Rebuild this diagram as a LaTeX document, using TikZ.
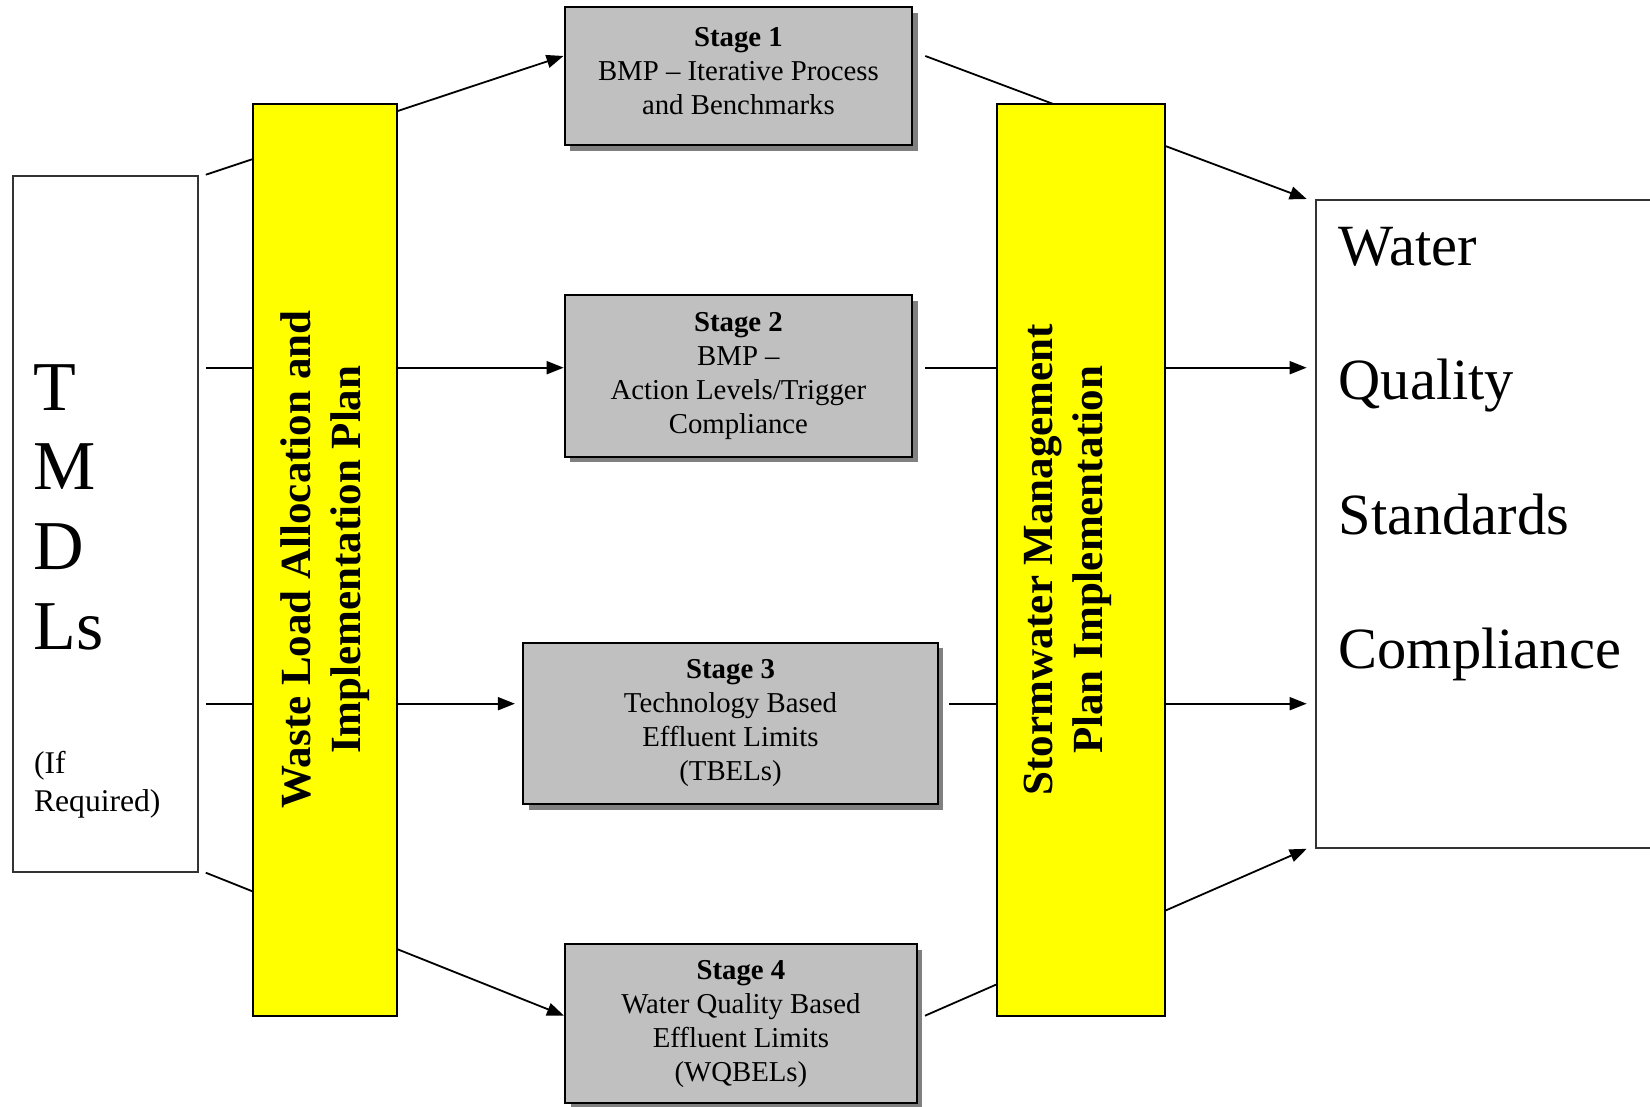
\documentclass[tikz,border=0pt]{standalone}
\usepackage{fontspec}
\setmainfont{Liberation Serif}
\usetikzlibrary{arrows.meta,shadows}

\definecolor{boxgray}{HTML}{C0C0C0}
\definecolor{shadowgray}{HTML}{808080}
\definecolor{framegray}{HTML}{333333}
\definecolor{baryellow}{HTML}{FFFF00}

\newcommand\stagefont{\fontsize{14.4}{17}\selectfont}
\newcommand\barfont{\fontsize{21.5}{25}\selectfont\bfseries}
\newcommand\bigfont{\fontsize{35}{40}\selectfont}
\newcommand\notefont{\fontsize{15.8}{19}\selectfont}
\newcommand\goalfont{\fontsize{29.2}{36}\selectfont}

\tikzset{
  stagebox/.style={draw, line width=1pt, fill=boxgray, align=center, inner sep=0pt,
    font=\stagefont,
    drop shadow={shadow xshift=2.8pt, shadow yshift=-2.8pt, fill=shadowgray, opacity=1}},
  planbar/.style={draw, line width=0.9pt, fill=baryellow, inner sep=0pt},
  framebox/.style={draw=framegray, line width=1pt, inner sep=0pt},
  flow/.style={line width=0.9pt, -{Triangle[length=8.5pt,width=6.5pt]}},
  word/.style={anchor=base west, inner sep=0pt}
}

\begin{document}
\begin{tikzpicture}[x=0.5pt,y=-0.5pt]
\useasboundingbox (0,0) rectangle (1650,1107);
\clip (0,0) rectangle (1650,1107);
\node[framebox, minimum width=92.6pt, minimum height=348pt] (tmdl) at (105.2,523.7) {};
\node[framebox, minimum width=172.2pt, minimum height=323.9pt] (wqs) at (1487.9,523.9) {};
\node[stagebox, minimum width=173.9pt, minimum height=68.9pt] (s1) at (738.4,76.2)
  {\textbf{Stage 1}\\BMP -- Iterative Process\\and Benchmarks\strut};
\node[stagebox, minimum width=173.7pt, minimum height=80.7pt] (s2) at (738.4,376)
  {\textbf{Stage 2}\\BMP --\\Action Levels/Trigger\\Compliance};
\node[stagebox, minimum width=207.2pt, minimum height=80.8pt] (s3) at (730.5,723.5)
  {\textbf{Stage 3}\\Technology Based\\Effluent Limits\\(TBELs)};
\node[stagebox, minimum width=175.9pt, minimum height=79.7pt] (s4) at (740.9,1023.7)
  {\textbf{Stage 4}\\Water Quality Based\\Effluent Limits\\(WQBELs)};
% levels of the connectors
\coordinate (lv1) at (0,56);
\coordinate (lv2) at (0,367.7);
\coordinate (lv3) at (0,703.7);
\coordinate (lv4) at (0,1015.7);
\draw[flow] ([xshift=3.5pt]tmdl.north east) -- (s1.west |- lv1);
\draw[flow] ([xshift=3.5pt]tmdl.east |- lv2) -- (s2.west |- lv2);
\draw[flow] ([xshift=3.5pt]tmdl.east |- lv3) -- ([xshift=-3.7pt]s3.west |- lv3);
\draw[flow] ([xshift=3.5pt]tmdl.south east) -- (s4.west |- lv4);
\draw[flow] ([xshift=6pt]s1.east |- lv1) -- ([xshift=-4pt]wqs.north west);
\draw[flow] ([xshift=6pt]s2.east |- lv2) -- ([xshift=-4pt]wqs.west |- lv2);
\draw[flow] ([xshift=5.3pt]s3.east |- lv3) -- ([xshift=-4pt]wqs.west |- lv3);
\draw[flow] ([xshift=3.6pt]s4.east |- lv4) -- ([xshift=-4pt]wqs.south west);
% yellow bars over the connectors
\node[planbar, minimum width=72.2pt, minimum height=456pt] (wla) at (324.8,559.7) {};
\node[planbar, minimum width=84pt, minimum height=456pt] (swmp) at (1081,559.7) {};
\node[rotate=90, align=center, font=\barfont] (wlatext) at (wla.center)
  {Waste Load Allocation and\\Implementation Plan};
\node[rotate=90, align=center, font=\barfont] (swmptext) at ([xshift=-6.8pt]swmp.center)
  {Stormwater Management\\Plan Implementation};
\node[word, font=\bigfont] (tT) at (33.3,410) {T};
\node[word, font=\bigfont] (tM) at (33.3,489.3) {M};
\node[word, font=\bigfont] (tD) at (33.3,569.3) {D};
\node[word, font=\bigfont] (tLs) at (33.3,649.3) {Ls};
\node[word, font=\notefont] (ifa) at (33.7,773.3) {(If};
\node[word, font=\notefont] (ifb) at (33.7,811) {Required)};
\node[word, font=\goalfont] (gW) at (1338.3,266) {Water};
\node[word, font=\goalfont] (gQ) at (1338.3,400) {Quality};
\node[word, font=\goalfont] (gS) at (1338.3,534) {Standards};
\node[word, font=\goalfont] (gC) at (1338.3,668) {Compliance};
\end{tikzpicture}
\end{document}
